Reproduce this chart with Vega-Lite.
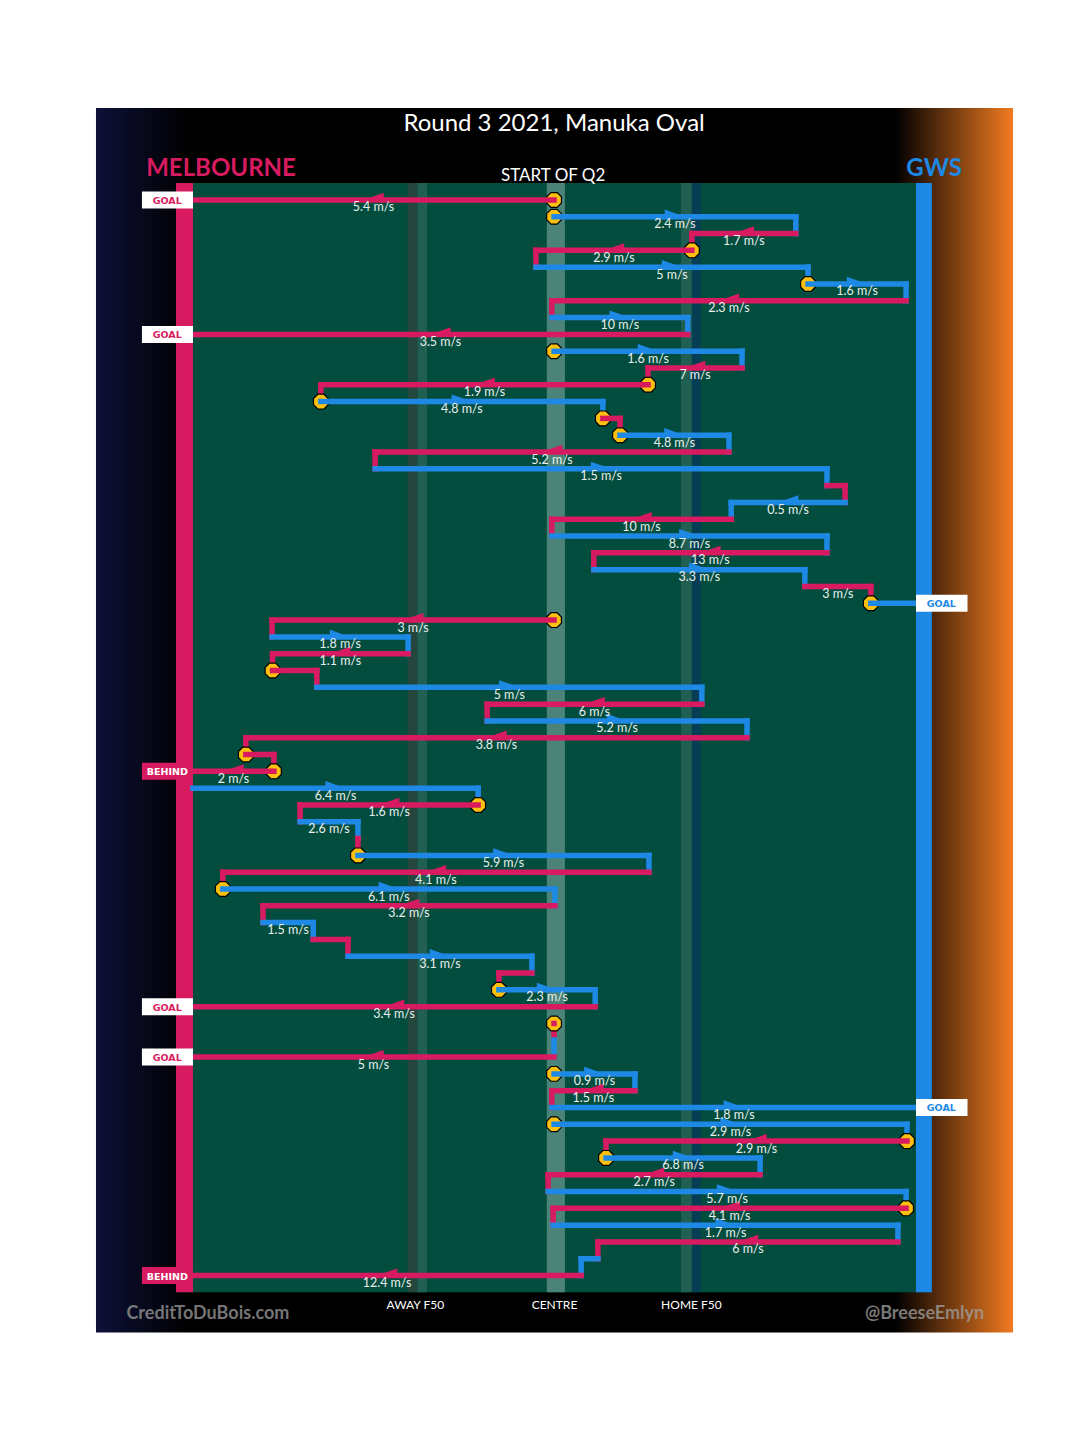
{
"$schema": "https://vega.github.io/schema/vega-lite/v6.json",
"width": 1080, "height": 1455,
"autosize": {"type": "fit", "contains": "padding"},
"padding": 0,
"background": "white",
"config": {"view": {"stroke": null}},
"datasets": {
"segs": [
{"i":1,"team":"MEL","from":79.9,"to":0,"speed":"5.4 m/s","dir":"L","stop":true,"score":"GOAL"},
{"i":2,"team":"GWS","from":79.9,"to":133.4,"speed":"2.4 m/s","dir":"R","stop":true},
{"i":3,"team":"MEL","from":133.4,"to":110.4,"speed":"1.7 m/s","dir":"L"},
{"i":4,"team":"MEL","from":110.4,"to":75.9,"speed":"2.9 m/s","dir":"L","stop":true},
{"i":5,"team":"GWS","from":75.9,"to":136.1,"speed":"5 m/s","dir":"R"},
{"i":6,"team":"GWS","from":136.1,"to":157.8,"speed":"1.6 m/s","dir":"R","stop":true},
{"i":7,"team":"MEL","from":157.8,"to":79.4,"speed":"2.3 m/s","dir":"L"},
{"i":8,"team":"GWS","from":79.4,"to":109.5,"speed":"10 m/s","dir":"R"},
{"i":9,"team":"MEL","from":109.5,"to":0,"speed":"3.5 m/s","dir":"L","score":"GOAL"},
{"i":10,"team":"GWS","from":79.9,"to":121.5,"speed":"1.6 m/s","dir":"R","stop":true},
{"i":11,"team":"MEL","from":121.5,"to":100.7,"speed":"7 m/s","dir":"L"},
{"i":12,"team":"MEL","from":100.7,"to":28.3,"speed":"1.9 m/s","dir":"L","stop":true},
{"i":13,"team":"GWS","from":28.3,"to":90.7,"speed":"4.8 m/s","dir":"R","stop":true},
{"i":14,"team":"MEL","from":90.7,"to":94.5,"stop":true},
{"i":15,"team":"GWS","from":94.5,"to":118.6,"speed":"4.8 m/s","dir":"R","stop":true},
{"i":16,"team":"MEL","from":118.6,"to":40.3,"speed":"5.2 m/s","dir":"L"},
{"i":17,"team":"GWS","from":40.3,"to":140.3,"speed":"1.5 m/s","dir":"R"},
{"i":18,"team":"MEL","from":140.3,"to":144.3},
{"i":19,"team":"GWS","from":144.3,"to":119.1,"speed":"0.5 m/s","dir":"L"},
{"i":20,"team":"MEL","from":119.1,"to":79.4,"speed":"10 m/s","dir":"L"},
{"i":21,"team":"GWS","from":79.4,"to":140.3,"speed":"8.7 m/s","dir":"R"},
{"i":22,"team":"MEL","from":140.3,"to":88.7,"speed":"13 m/s","dir":"L"},
{"i":23,"team":"GWS","from":88.7,"to":135.4,"speed":"3.3 m/s","dir":"R"},
{"i":24,"team":"MEL","from":135.4,"to":150.0,"speed":"3 m/s"},
{"i":25,"team":"GWS","from":150.0,"to":160,"stop":true,"score":"GOAL"},
{"i":26,"team":"MEL","from":79.9,"to":17.5,"speed":"3 m/s","dir":"L","stop":true},
{"i":27,"team":"GWS","from":17.5,"to":47.6,"speed":"1.8 m/s","dir":"R"},
{"i":28,"team":"MEL","from":47.6,"to":17.6,"speed":"1.1 m/s","dir":"L"},
{"i":29,"team":"MEL","from":17.6,"to":27.4,"stop":true},
{"i":30,"team":"GWS","from":27.4,"to":112.6,"speed":"5 m/s","dir":"R"},
{"i":31,"team":"MEL","from":112.6,"to":65.1,"speed":"6 m/s","dir":"L"},
{"i":32,"team":"GWS","from":65.1,"to":122.6,"speed":"5.2 m/s","dir":"R"},
{"i":33,"team":"MEL","from":122.6,"to":11.7,"speed":"3.8 m/s","dir":"L"},
{"i":34,"team":"MEL","from":11.7,"to":17.9,"stop":true},
{"i":35,"team":"MEL","from":17.9,"to":0,"speed":"2 m/s","dir":"L","stop":true,"score":"BEHIND"},
{"i":36,"team":"GWS","from":0,"to":63.1,"speed":"6.4 m/s","dir":"R"},
{"i":37,"team":"MEL","from":63.1,"to":23.7,"speed":"1.6 m/s","dir":"L","stop":true},
{"i":38,"team":"GWS","from":23.7,"to":36.5,"speed":"2.6 m/s"},
{"i":39,"team":"MEL","from":36.5,"to":36.5},
{"i":40,"team":"GWS","from":36.5,"to":100.9,"speed":"5.9 m/s","dir":"R","stop":true},
{"i":41,"team":"MEL","from":100.9,"to":6.6,"speed":"4.1 m/s","dir":"L"},
{"i":42,"team":"GWS","from":6.6,"to":80.1,"speed":"6.1 m/s","dir":"R","stop":true},
{"i":43,"team":"MEL","from":80.1,"to":15.5,"speed":"3.2 m/s","dir":"L"},
{"i":44,"team":"GWS","from":15.5,"to":26.6,"speed":"1.5 m/s"},
{"i":45,"team":"MEL","from":26.6,"to":34.3},
{"i":46,"team":"GWS","from":34.3,"to":75.0,"speed":"3.1 m/s","dir":"R"},
{"i":47,"team":"MEL","from":75.0,"to":67.7},
{"i":48,"team":"GWS","from":67.7,"to":89.0,"speed":"2.3 m/s","dir":"R","stop":true},
{"i":49,"team":"MEL","from":89.0,"to":0,"speed":"3.4 m/s","dir":"L","score":"GOAL"},
{"i":50,"team":"MEL","from":79.9,"to":79.9,"stop":true},
{"i":51,"team":"GWS","from":79.9,"to":79.9},
{"i":52,"team":"MEL","from":79.9,"to":0,"speed":"5 m/s","dir":"L","score":"GOAL"},
{"i":53,"team":"GWS","from":79.9,"to":97.8,"speed":"0.9 m/s","dir":"R","stop":true},
{"i":54,"team":"MEL","from":97.8,"to":79.4,"speed":"1.5 m/s","dir":"L"},
{"i":55,"team":"GWS","from":79.4,"to":160,"speed":"1.8 m/s","dir":"R","score":"GOAL"},
{"i":56,"team":"GWS","from":79.9,"to":158.0,"speed":"2.9 m/s","dir":"R","stop":true},
{"i":57,"team":"MEL","from":158.0,"to":91.4,"speed":"2.9 m/s","dir":"L","stop":true},
{"i":58,"team":"GWS","from":91.4,"to":125.5,"speed":"6.8 m/s","dir":"R","stop":true},
{"i":59,"team":"MEL","from":125.5,"to":78.6,"speed":"2.7 m/s","dir":"L"},
{"i":60,"team":"GWS","from":78.6,"to":157.8,"speed":"5.7 m/s","dir":"R"},
{"i":61,"team":"MEL","from":157.8,"to":79.7,"speed":"4.1 m/s","dir":"L","stop":true},
{"i":62,"team":"GWS","from":79.7,"to":156.0,"speed":"1.7 m/s","dir":"R"},
{"i":63,"team":"MEL","from":156.0,"to":89.6,"speed":"6 m/s","dir":"L"},
{"i":64,"team":"GWS","from":89.6,"to":85.9},
{"i":65,"team":"MEL","from":85.9,"to":0,"speed":"12.4 m/s","dir":"L","score":"BEHIND"}
],
"links": [
{"a":2,"b":3,"x":133.4,"team":"GWS"},
{"a":3,"b":4,"x":110.4,"team":"MEL"},
{"a":4,"b":5,"x":75.9,"team":"MEL"},
{"a":5,"b":6,"x":136.1,"team":"GWS"},
{"a":6,"b":7,"x":157.8,"team":"GWS"},
{"a":7,"b":8,"x":79.4,"team":"MEL"},
{"a":8,"b":9,"x":109.5,"team":"GWS"},
{"a":10,"b":11,"x":121.5,"team":"GWS"},
{"a":11,"b":12,"x":100.7,"team":"MEL"},
{"a":12,"b":13,"x":28.3,"team":"MEL"},
{"a":13,"b":14,"x":90.7,"team":"GWS"},
{"a":14,"b":15,"x":94.5,"team":"MEL"},
{"a":15,"b":16,"x":118.6,"team":"GWS"},
{"a":16,"b":17,"x":40.3,"team":"MEL"},
{"a":17,"b":18,"x":140.3,"team":"GWS"},
{"a":18,"b":19,"x":144.3,"team":"MEL"},
{"a":19,"b":20,"x":119.1,"team":"GWS"},
{"a":20,"b":21,"x":79.4,"team":"MEL"},
{"a":21,"b":22,"x":140.3,"team":"GWS"},
{"a":22,"b":23,"x":88.7,"team":"MEL"},
{"a":23,"b":24,"x":135.4,"team":"GWS"},
{"a":24,"b":25,"x":150.0,"team":"MEL"},
{"a":26,"b":27,"x":17.5,"team":"MEL"},
{"a":27,"b":28,"x":47.6,"team":"GWS"},
{"a":28,"b":29,"x":17.6,"team":"MEL"},
{"a":29,"b":30,"x":27.4,"team":"MEL"},
{"a":30,"b":31,"x":112.6,"team":"GWS"},
{"a":31,"b":32,"x":65.1,"team":"MEL"},
{"a":32,"b":33,"x":122.6,"team":"GWS"},
{"a":33,"b":34,"x":11.7,"team":"MEL"},
{"a":34,"b":35,"x":17.9,"team":"MEL"},
{"a":36,"b":37,"x":63.1,"team":"GWS"},
{"a":37,"b":38,"x":23.7,"team":"MEL"},
{"a":38,"b":39,"x":36.5,"team":"GWS"},
{"a":39,"b":40,"x":36.5,"team":"MEL"},
{"a":40,"b":41,"x":100.9,"team":"GWS"},
{"a":41,"b":42,"x":6.6,"team":"MEL"},
{"a":42,"b":43,"x":80.1,"team":"GWS"},
{"a":43,"b":44,"x":15.5,"team":"MEL"},
{"a":44,"b":45,"x":26.6,"team":"GWS"},
{"a":45,"b":46,"x":34.3,"team":"MEL"},
{"a":46,"b":47,"x":75.0,"team":"GWS"},
{"a":47,"b":48,"x":67.7,"team":"MEL"},
{"a":48,"b":49,"x":89.0,"team":"GWS"},
{"a":50,"b":51,"x":79.9,"team":"MEL"},
{"a":51,"b":52,"x":79.9,"team":"GWS"},
{"a":53,"b":54,"x":97.8,"team":"GWS"},
{"a":54,"b":55,"x":79.4,"team":"MEL"},
{"a":56,"b":57,"x":158.0,"team":"GWS"},
{"a":57,"b":58,"x":91.4,"team":"MEL"},
{"a":58,"b":59,"x":125.5,"team":"GWS"},
{"a":59,"b":60,"x":78.6,"team":"MEL"},
{"a":60,"b":61,"x":157.8,"team":"GWS"},
{"a":61,"b":62,"x":79.7,"team":"MEL"},
{"a":62,"b":63,"x":156.0,"team":"GWS"},
{"a":63,"b":64,"x":89.6,"team":"MEL"},
{"a":64,"b":65,"x":85.9,"team":"GWS"}
]
},
"layer": [
{"data": {"values": [{}]},
 "mark": {"type": "rect", "color": {"gradient": "linear", "x1": 0, "y1": 0, "x2": 1, "y2": 0, "stops": [{"offset": 0, "color": "#0e1139"}, {"offset": 0.1, "color": "#000000"}, {"offset": 0.872, "color": "#000000"}, {"offset": 1, "color": "#f27b20"}]}},
 "encoding": {
  "x": {"datum": -21.47, "type": "quantitative", "scale": {"domain": [-42.71, 196.29], "nice": false, "zero": false}, "axis": null},
  "x2": {"datum": 181.47},
  "y": {"datum": -4.472, "type": "quantitative", "scale": {"domain": [-10.598, 75.379], "reverse": true, "nice": false, "zero": false}, "axis": null},
  "y2": {"datum": 68.39}}},
{"data": {"values": [{}]},
 "mark": {"type": "rect", "color": "#034d3f"},
 "encoding": {
  "x": {"datum": -3.76, "type": "quantitative", "scale": {"domain": [-42.71, 196.29], "nice": false, "zero": false}, "axis": null},
  "x2": {"datum": 163.5},
  "y": {"datum": 0, "type": "quantitative", "scale": {"domain": [-10.598, 75.379], "reverse": true, "nice": false, "zero": false}, "axis": null},
  "y2": {"datum": 66}}},
{"data": {"values": [{}]},
 "mark": {"type": "rect", "color": "#24463c"},
 "encoding": {
  "x": {"datum": 47.5, "type": "quantitative", "scale": {"domain": [-42.71, 196.29], "nice": false, "zero": false}, "axis": null},
  "x2": {"datum": 49.7},
  "y": {"datum": 0, "type": "quantitative", "scale": {"domain": [-10.598, 75.379], "reverse": true, "nice": false, "zero": false}, "axis": null},
  "y2": {"datum": 66}}},
{"data": {"values": [{}]},
 "mark": {"type": "rect", "color": "#205f52"},
 "encoding": {
  "x": {"datum": 49.7, "type": "quantitative", "scale": {"domain": [-42.71, 196.29], "nice": false, "zero": false}, "axis": null},
  "x2": {"datum": 51.8},
  "y": {"datum": 0, "type": "quantitative", "scale": {"domain": [-10.598, 75.379], "reverse": true, "nice": false, "zero": false}, "axis": null},
  "y2": {"datum": 66}}},
{"data": {"values": [{}]},
 "mark": {"type": "rect", "color": "#4c8378"},
 "encoding": {
  "x": {"datum": 78.3, "type": "quantitative", "scale": {"domain": [-42.71, 196.29], "nice": false, "zero": false}, "axis": null},
  "x2": {"datum": 82.3},
  "y": {"datum": 0, "type": "quantitative", "scale": {"domain": [-10.598, 75.379], "reverse": true, "nice": false, "zero": false}, "axis": null},
  "y2": {"datum": 66}}},
{"data": {"values": [{}]},
 "mark": {"type": "rect", "color": "#205f52"},
 "encoding": {
  "x": {"datum": 108.0, "type": "quantitative", "scale": {"domain": [-42.71, 196.29], "nice": false, "zero": false}, "axis": null},
  "x2": {"datum": 110.4},
  "y": {"datum": 0, "type": "quantitative", "scale": {"domain": [-10.598, 75.379], "reverse": true, "nice": false, "zero": false}, "axis": null},
  "y2": {"datum": 66}}},
{"data": {"values": [{}]},
 "mark": {"type": "rect", "color": "#063f55"},
 "encoding": {
  "x": {"datum": 110.4, "type": "quantitative", "scale": {"domain": [-42.71, 196.29], "nice": false, "zero": false}, "axis": null},
  "x2": {"datum": 112.4},
  "y": {"datum": 0, "type": "quantitative", "scale": {"domain": [-10.598, 75.379], "reverse": true, "nice": false, "zero": false}, "axis": null},
  "y2": {"datum": 66}}},
{"data": {"values": [{}]},
 "mark": {"type": "rect", "color": "#d81b60"},
 "encoding": {
  "x": {"datum": -3.76, "type": "quantitative", "scale": {"domain": [-42.71, 196.29], "nice": false, "zero": false}, "axis": null},
  "x2": {"datum": 0},
  "y": {"datum": 0, "type": "quantitative", "scale": {"domain": [-10.598, 75.379], "reverse": true, "nice": false, "zero": false}, "axis": null},
  "y2": {"datum": 66}}},
{"data": {"values": [{}]},
 "mark": {"type": "rect", "color": "#1e88e5"},
 "encoding": {
  "x": {"datum": 160, "type": "quantitative", "scale": {"domain": [-42.71, 196.29], "nice": false, "zero": false}, "axis": null},
  "x2": {"datum": 163.5},
  "y": {"datum": 0, "type": "quantitative", "scale": {"domain": [-10.598, 75.379], "reverse": true, "nice": false, "zero": false}, "axis": null},
  "y2": {"datum": 66}}},
{"data": {"name": "links"},
 "mark": {"type": "rule", "strokeWidth": 5.5, "strokeCap": "square"},
 "encoding": {
  "x": {"field": "x", "type": "quantitative", "scale": {"domain": [-42.71, 196.29], "nice": false, "zero": false}, "axis": null},
  "y": {"field": "a", "type": "quantitative", "scale": {"domain": [-10.598, 75.379], "reverse": true, "nice": false, "zero": false}, "axis": null},
  "y2": {"field": "b"},
  "color": {"field": "team", "type": "nominal", "scale": {"domain": ["MEL", "GWS"], "range": ["#d81b60", "#1e88e5"]}, "legend": null}}},
{"data": {"name": "segs"},
 "transform": [{"filter": "datum.stop === true"}],
 "mark": {"type": "point", "shape": "M0.383,-0.924L0.924,-0.383L0.924,0.383L0.383,0.924L-0.383,0.924L-0.924,0.383L-0.924,-0.383L-0.383,-0.924Z", "size": 256, "filled": true, "fill": "#fcc10f", "stroke": "#000000", "strokeWidth": 1.2, "opacity": 1},
 "encoding": {
  "x": {"field": "from", "type": "quantitative", "scale": {"domain": [-42.71, 196.29], "nice": false, "zero": false}, "axis": null},
  "y": {"field": "i", "type": "quantitative", "scale": {"domain": [-10.598, 75.379], "reverse": true, "nice": false, "zero": false}, "axis": null}}},
{"data": {"name": "segs"},
 "mark": {"type": "rule", "strokeWidth": 5.5, "strokeCap": "square"},
 "encoding": {
  "x": {"field": "from", "type": "quantitative", "scale": {"domain": [-42.71, 196.29], "nice": false, "zero": false}, "axis": null},
  "x2": {"field": "to"},
  "y": {"field": "i", "type": "quantitative", "scale": {"domain": [-10.598, 75.379], "reverse": true, "nice": false, "zero": false}, "axis": null},
  "color": {"field": "team", "type": "nominal", "scale": {"domain": ["MEL", "GWS"], "range": ["#d81b60", "#1e88e5"]}, "legend": null}}},
{"data": {"name": "segs"},
 "transform": [{"filter": "datum.score != null && datum.team === 'MEL'"}],
 "mark": {"type": "bar", "size": 17, "orient": "horizontal"},
 "encoding": {
  "x": {"datum": -11.3, "type": "quantitative", "scale": {"domain": [-42.71, 196.29], "nice": false, "zero": false}, "axis": null},
  "x2": {"datum": 0},
  "y": {"field": "i", "type": "quantitative", "scale": {"domain": [-10.598, 75.379], "reverse": true, "nice": false, "zero": false}, "axis": null},
  "color": {"condition": {"test": "datum.score === 'BEHIND'", "value": "#d81b60"}, "value": "#ffffff"}}},
{"data": {"name": "segs"},
 "transform": [{"filter": "datum.score != null && datum.team === 'GWS'"}],
 "mark": {"type": "bar", "size": 17, "orient": "horizontal", "color": "#ffffff"},
 "encoding": {
  "x": {"datum": 160, "type": "quantitative", "scale": {"domain": [-42.71, 196.29], "nice": false, "zero": false}, "axis": null},
  "x2": {"datum": 171.4},
  "y": {"field": "i", "type": "quantitative", "scale": {"domain": [-10.598, 75.379], "reverse": true, "nice": false, "zero": false}, "axis": null}}},
{"data": {"name": "segs"},
 "transform": [{"filter": "datum.score != null && datum.team === 'MEL'"}],
 "mark": {"type": "text", "font": "DejaVu Sans", "fontWeight": "bold", "fontSize": 9.5, "baseline": "middle", "align": "center", "dy": 1},
 "encoding": {
  "x": {"datum": -5.7, "type": "quantitative", "scale": {"domain": [-42.71, 196.29], "nice": false, "zero": false}, "axis": null},
  "y": {"field": "i", "type": "quantitative", "scale": {"domain": [-10.598, 75.379], "reverse": true, "nice": false, "zero": false}, "axis": null},
  "text": {"field": "score"},
  "color": {"condition": {"test": "datum.score === 'BEHIND'", "value": "#ffffff"}, "value": "#d81b60"}}},
{"data": {"name": "segs"},
 "transform": [{"filter": "datum.score != null && datum.team === 'GWS'"}],
 "mark": {"type": "text", "font": "DejaVu Sans", "fontWeight": "bold", "fontSize": 9.5, "baseline": "middle", "align": "center", "dy": 1, "color": "#1e88e5"},
 "encoding": {
  "x": {"datum": 165.6, "type": "quantitative", "scale": {"domain": [-42.71, 196.29], "nice": false, "zero": false}, "axis": null},
  "y": {"field": "i", "type": "quantitative", "scale": {"domain": [-10.598, 75.379], "reverse": true, "nice": false, "zero": false}, "axis": null},
  "text": {"field": "score"}}},
{"data": {"name": "segs"},
 "transform": [{"filter": "datum.dir != null"}, {"fold": ["from", "to"], "as": ["end", "pos"]}, {"aggregate": [{"op": "mean", "field": "pos", "as": "mid"}], "groupby": ["i", "team", "dir"]}],
 "mark": {"type": "point", "filled": true, "size": 420, "opacity": 1, "strokeWidth": 0},
 "encoding": {
  "x": {"field": "mid", "type": "quantitative", "scale": {"domain": [-42.71, 196.29], "nice": false, "zero": false}, "axis": null},
  "y": {"field": "i", "type": "quantitative", "scale": {"domain": [-10.598, 75.379], "reverse": true, "nice": false, "zero": false}, "axis": null},
  "shape": {"field": "dir", "type": "nominal", "scale": {"domain": ["L", "R"], "range": ["M-1,0L1,-0.7L1,0.2Z", "M1,0L-1,-0.7L-1,0.2Z"]}, "legend": null},
  "color": {"field": "team", "type": "nominal", "scale": {"domain": ["MEL", "GWS"], "range": ["#d81b60", "#1e88e5"]}, "legend": null}}},
{"data": {"name": "segs"},
 "transform": [{"filter": "datum.speed != null"}, {"fold": ["from", "to"], "as": ["end", "pos"]}, {"aggregate": [{"op": "mean", "field": "pos", "as": "mid"}], "groupby": ["i", "speed"]}],
 "mark": {"type": "text", "font": "Lato", "fontSize": 12.5, "color": "#e8efec", "baseline": "alphabetic", "align": "center", "dy": 11.5},
 "encoding": {
  "x": {"field": "mid", "type": "quantitative", "scale": {"domain": [-42.71, 196.29], "nice": false, "zero": false}, "axis": null},
  "y": {"field": "i", "type": "quantitative", "scale": {"domain": [-10.598, 75.379], "reverse": true, "nice": false, "zero": false}, "axis": null},
  "text": {"field": "speed"}}},
{"data": {"values": [{}]},
 "mark": {"type": "text", "text": "Round 3 2021, Manuka Oval", "font": "Lato", "fontSize": 24, "color": "#ffffff", "baseline": "alphabetic", "align": "center"},
 "encoding": {
  "x": {"datum": 79.9, "type": "quantitative", "scale": {"domain": [-42.71, 196.29], "nice": false, "zero": false}, "axis": null},
  "y": {"datum": -3.086, "type": "quantitative", "scale": {"domain": [-10.598, 75.379], "reverse": true, "nice": false, "zero": false}, "axis": null}}},
{"data": {"values": [{}]},
 "mark": {"type": "text", "text": "MELBOURNE", "font": "Lato", "fontWeight": "bold", "fontSize": 24, "color": "#d81b60", "baseline": "alphabetic", "align": "center"},
 "encoding": {
  "x": {"datum": 6.2, "type": "quantitative", "scale": {"domain": [-42.71, 196.29], "nice": false, "zero": false}, "axis": null},
  "y": {"datum": -0.43, "type": "quantitative", "scale": {"domain": [-10.598, 75.379], "reverse": true, "nice": false, "zero": false}, "axis": null}}},
{"data": {"values": [{}]},
 "mark": {"type": "text", "text": "GWS", "font": "Lato", "fontWeight": "bold", "fontSize": 24, "color": "#1e88e5", "baseline": "alphabetic", "align": "center"},
 "encoding": {
  "x": {"datum": 164.0, "type": "quantitative", "scale": {"domain": [-42.71, 196.29], "nice": false, "zero": false}, "axis": null},
  "y": {"datum": -0.43, "type": "quantitative", "scale": {"domain": [-10.598, 75.379], "reverse": true, "nice": false, "zero": false}, "axis": null}}},
{"data": {"values": [{}]},
 "mark": {"type": "text", "text": "START OF Q2", "font": "Lato", "fontSize": 17, "color": "#ffffff", "baseline": "alphabetic", "align": "center"},
 "encoding": {
  "x": {"datum": 79.7, "type": "quantitative", "scale": {"domain": [-42.71, 196.29], "nice": false, "zero": false}, "axis": null},
  "y": {"datum": -0.11, "type": "quantitative", "scale": {"domain": [-10.598, 75.379], "reverse": true, "nice": false, "zero": false}, "axis": null}}},
{"data": {"values": [{}]},
 "mark": {"type": "text", "text": "AWAY F50", "font": "Lato", "fontSize": 12, "color": "#ffffff", "baseline": "alphabetic", "align": "center"},
 "encoding": {
  "x": {"datum": 49.2, "type": "quantitative", "scale": {"domain": [-42.71, 196.29], "nice": false, "zero": false}, "axis": null},
  "y": {"datum": 66.96, "type": "quantitative", "scale": {"domain": [-10.598, 75.379], "reverse": true, "nice": false, "zero": false}, "axis": null}}},
{"data": {"values": [{}]},
 "mark": {"type": "text", "text": "CENTRE", "font": "Lato", "fontSize": 12, "color": "#ffffff", "baseline": "alphabetic", "align": "center"},
 "encoding": {
  "x": {"datum": 80.0, "type": "quantitative", "scale": {"domain": [-42.71, 196.29], "nice": false, "zero": false}, "axis": null},
  "y": {"datum": 66.96, "type": "quantitative", "scale": {"domain": [-10.598, 75.379], "reverse": true, "nice": false, "zero": false}, "axis": null}}},
{"data": {"values": [{}]},
 "mark": {"type": "text", "text": "HOME F50", "font": "Lato", "fontSize": 12, "color": "#ffffff", "baseline": "alphabetic", "align": "center"},
 "encoding": {
  "x": {"datum": 110.3, "type": "quantitative", "scale": {"domain": [-42.71, 196.29], "nice": false, "zero": false}, "axis": null},
  "y": {"datum": 66.96, "type": "quantitative", "scale": {"domain": [-10.598, 75.379], "reverse": true, "nice": false, "zero": false}, "axis": null}}},
{"data": {"values": [{}]},
 "mark": {"type": "text", "text": "CreditToDuBois.com", "font": "Lato", "fontWeight": "bold", "fontSize": 18, "color": "#8a8a8a", "opacity": 0.85, "baseline": "alphabetic", "align": "center"},
 "encoding": {
  "x": {"datum": 3.3, "type": "quantitative", "scale": {"domain": [-42.71, 196.29], "nice": false, "zero": false}, "axis": null},
  "y": {"datum": 67.58, "type": "quantitative", "scale": {"domain": [-10.598, 75.379], "reverse": true, "nice": false, "zero": false}, "axis": null}}},
{"data": {"values": [{}]},
 "mark": {"type": "text", "text": "@BreeseEmlyn", "font": "Lato", "fontWeight": "bold", "fontSize": 18, "color": "#a0a0a0", "opacity": 0.75, "baseline": "alphabetic", "align": "center"},
 "encoding": {
  "x": {"datum": 161.9, "type": "quantitative", "scale": {"domain": [-42.71, 196.29], "nice": false, "zero": false}, "axis": null},
  "y": {"datum": 67.58, "type": "quantitative", "scale": {"domain": [-10.598, 75.379], "reverse": true, "nice": false, "zero": false}, "axis": null}}}
]
}
